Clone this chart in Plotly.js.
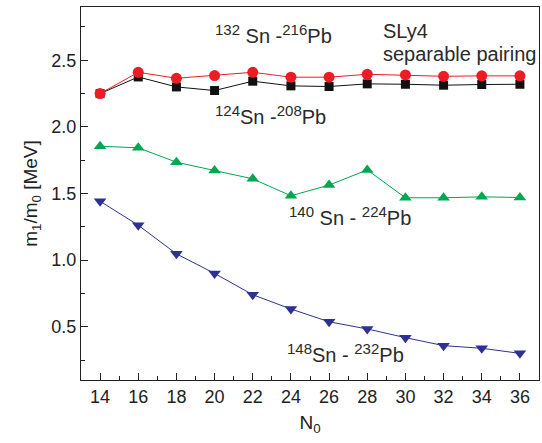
<!DOCTYPE html>
<html><head><meta charset="utf-8">
<script src="https://cdn.plot.ly/plotly-3.0.1.min.js"></script>
<style>html,body{margin:0;padding:0;background:#fff}#c{width:542px;height:443px}</style>
</head><body><div id="c"></div>
<script>
const N0 = [14,16,18,20,22,24,26,28,30,32,34,36];
const sn132 = [2.25,2.41,2.365,2.385,2.41,2.373,2.373,2.395,2.39,2.38,2.383,2.383];
const sn124 = [2.25,2.375,2.30,2.273,2.343,2.308,2.303,2.323,2.32,2.313,2.318,2.32];
const sn140 = [1.855,1.843,1.735,1.672,1.61,1.483,1.563,1.677,1.468,1.468,1.475,1.47];
const sn148 = [1.442,1.262,1.047,0.90,0.74,0.633,0.537,0.483,0.418,0.358,0.338,0.30];
const xTicks = [14,16,18,20,22,24,26,28,30,32,34,36];
const yTicks = [0.5,1.0,1.5,2.0,2.5];
const yTickText = ['0.5','1.0','1.5','2.0','2.5'];

const font = 'Liberation Sans, Arial, sans-serif';
function tr(y, color, sym, size){
  return {x:N0, y:y, mode:'lines+markers', type:'scatter',
    line:{color:color, width:1}, marker:{color:color, symbol:sym, size:size}, showlegend:false};
}
const data = [
  tr(sn124,'#111111','square',9),
  tr(sn132,'#ec1c24','circle',11),
  tr(sn140,'#00a651','triangle-up',11),
  tr(sn148,'#2e3192','triangle-down',11)
];
const sup = t => '<sup><span style="font-size:15px">'+t+'</span></sup>';
const ann = (x,y,t)=>({x:x,y:y,xref:'x',yref:'y',text:t,showarrow:false,xanchor:'left',yanchor:'middle',font:{family:font,size:20,color:'#2a2a2a'}});
const layout = {
  width:542, height:443,
  margin:{l:81,r:3,t:7,b:63},
  paper_bgcolor:'#fff', plot_bgcolor:'#fff',
  font:{family:font, size:18, color:'#222'},
  xaxis:{range:[13,37], tickvals:xTicks, ticktext:xTicks.map(String), ticks:'inside', ticklen:7, tickcolor:'#222',
    showline:true, linecolor:'#222', linewidth:1, mirror:true, showgrid:false, zeroline:false,
    minor:{dtick:1, tick0:13, ticks:'inside', ticklen:4, tickcolor:'#222', showgrid:false},
    title:{text:'N<sub>0</sub>', font:{family:font,size:19}, standoff:10}},
  yaxis:{range:[0.1,2.9], tickvals:yTicks, ticktext:yTickText, ticks:'inside', ticklen:7, tickcolor:'#222',
    showline:true, linecolor:'#222', linewidth:1, mirror:true, showgrid:false, zeroline:false,
    minor:{dtick:0.25, tick0:0, ticks:'inside', ticklen:4, tickcolor:'#222', showgrid:false},
    title:{text:'m<sub>1</sub>/m<sub>0</sub> [MeV]', font:{family:font,size:19}, standoff:8}},
  annotations:[
    ann(19.9,2.70,sup('132')+' Sn -'+sup('216')+'Pb'),
    ann(28.7,2.72,'SLy4'),
    ann(28.7,2.55,'separable pairing'),
    ann(19.9,2.09,sup('124')+'Sn -'+sup('208')+'Pb'),
    ann(23.8,1.33,sup('140')+' Sn - '+sup('224')+'Pb'),
    ann(23.7,0.30,sup('148')+'Sn - '+sup('232')+'Pb')
  ]
};
Plotly.newPlot('c', data, layout, {displayModeBar:false, staticPlot:true});
</script></body></html>
